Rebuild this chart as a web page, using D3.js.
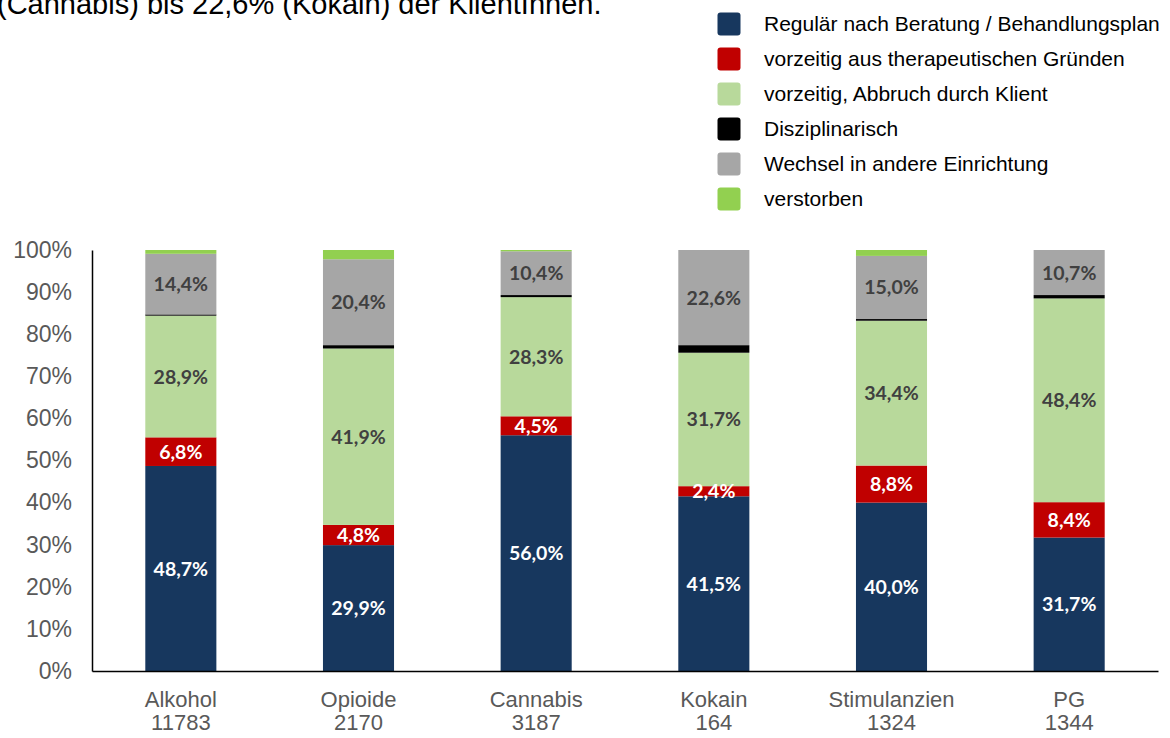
<!DOCTYPE html>
<html><head><meta charset="utf-8">
<script src="https://cdn.jsdelivr.net/npm/d3@7"></script>
<style>body{margin:0;background:#fff}svg{display:block}</style>
</head><body>
<svg id="c" width="1170" height="738"></svg>
<script>
const categories = ["Alkohol","Opioide","Cannabis","Kokain","Stimulanzien","PG"];
const counts = ["11783","2170","3187","164","1324","1344"];
const seriesNames = ["Regulär nach Beratung / Behandlungsplan","vorzeitig aus therapeutischen Gründen","vorzeitig, Abbruch durch Klient","Disziplinarisch","Wechsel in andere Einrichtung","verstorben"];
const seriesColors = ["#17375E","#C00000","#B8D99B","#000000","#A6A6A6","#92D050"];
const regulaer     = [48.7, 29.9, 56.0, 41.5, 40.0, 31.7];
const therapeut    = [6.8, 4.8, 4.5, 2.4, 8.8, 8.4];
const abbruch      = [28.9, 41.9, 28.3, 31.7, 34.4, 48.4];
const disziplin    = [0.3, 0.8, 0.5, 1.8, 0.4, 0.8];
const wechsel      = [14.4, 20.4, 10.4, 22.6, 15.0, 10.7];
const verstorben   = [0.9, 2.2, 0.3, 0.0, 1.4, 0.0];
const yTicks = [0,10,20,30,40,50,60,70,80,90,100];
const labelled = [true, true, true, false, true, false];
const labelColors = ["#ffffff","#ffffff","#404040",null,"#404040",null];
const titleText = "(Cannabis) bis 22,6% (Kokain) der KlientInnen.";

(function(){
const seriesVals = [regulaer, therapeut, abbruch, disziplin, wechsel, verstorben];
const rows = categories.map((c,i)=>{const o={cat:c}; seriesNames.forEach((s,j)=>o[s]=seriesVals[j][i]); return o;});
const stacked = d3.stack().keys(seriesNames)(rows);

const svg = d3.select("#c");
const mLeft = 92, mRight = 1158, mTop = 250, mBottom = 671;
const x = d3.scaleBand().domain(categories).range([mLeft,mRight]).paddingInner(0.6).paddingOuter(0.3);
const y = d3.scaleLinear().domain([0,100]).range([mBottom,mTop]);

svg.append("text").attr("x",-3).attr("y",14).attr("font-family","Liberation Sans, Arial, sans-serif")
  .attr("font-size",29).attr("fill","#000").text(titleText);

stacked.forEach((layer,j)=>{
  svg.append("g").selectAll("rect").data(layer).enter().append("rect")
    .attr("x",d=>x(d.data.cat)).attr("width",x.bandwidth())
    .attr("y",d=>y(d[1])).attr("height",d=>Math.max(0,y(d[0])-y(d[1])))
    .attr("fill",seriesColors[j]);
});
stacked.forEach((layer,j)=>{
  if(!labelled[j]) return;
  svg.append("g").selectAll("text").data(layer).enter().append("text")
    .attr("x",d=>x(d.data.cat)+x.bandwidth()/2)
    .attr("y",d=>y((d[0]+d[1])/2))
    .attr("dy","0.36em").attr("text-anchor","middle")
    .attr("font-family","Lato, 'Open Sans', sans-serif").attr("font-weight","bold")
    .attr("font-size",19.5).attr("fill",labelColors[j])
    .text(d=>d3.format(".1f")(d[1]-d[0]).replace(".",",")+"%");
});

const yAxis = svg.append("g").attr("transform",`translate(${mLeft},0)`)
  .call(d3.axisLeft(y).tickValues(yTicks).tickSize(0).tickPadding(20).tickFormat(d=>d+"%"));
yAxis.select(".domain").attr("stroke","#000").attr("stroke-width",1.5);
yAxis.selectAll("text").attr("font-family","Liberation Sans, Arial, sans-serif").attr("font-size",23).attr("fill","#595959");

const xAxis = svg.append("g").attr("transform",`translate(0,${mBottom})`)
  .call(d3.axisBottom(x).tickSize(0).tickFormat(""));
xAxis.select(".domain").attr("stroke","#000").attr("stroke-width",1.5);
xAxis.selectAll(".tick").each(function(d,i){
  const t = d3.select(this).select("text").attr("y",0).attr("dy",0)
    .attr("font-family","Liberation Sans, Arial, sans-serif").attr("font-size",22).attr("fill","#595959");
  t.append("tspan").attr("x",0).attr("y",35.5).text(d);
  t.append("tspan").attr("x",0).attr("y",59).text(counts[i]);
});

const leg = svg.append("g");
seriesNames.forEach((s,j)=>{
  const cy = 24 + j*35;
  leg.append("rect").attr("x",717.5).attr("y",cy-11.5).attr("width",23).attr("height",23).attr("rx",3).attr("fill",seriesColors[j]);
  leg.append("text").attr("x",764).attr("y",cy).attr("dy","0.35em")
    .attr("font-family","Liberation Sans, Arial, sans-serif").attr("font-size",21).attr("fill","#000").text(s);
});
})();
</script>
</body></html>
